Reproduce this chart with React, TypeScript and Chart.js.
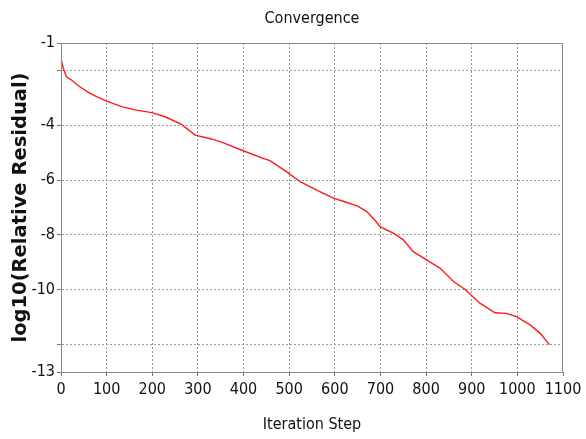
import React, { useEffect, useRef } from "react";
import { Chart, registerables } from "chart.js";

Chart.register(...registerables);

const iterations = [0, 5, 12, 23, 38, 60, 78, 100, 133, 162, 199, 228, 264, 294, 330, 359, 399, 443, 458, 494, 524, 567, 597, 620, 650, 670, 690, 699, 732, 750, 772, 801, 831, 860, 885, 918, 951, 976, 998, 1028, 1050, 1070];
const residuals = [-1.58, -1.92, -2.23, -2.35, -2.56, -2.8, -2.96, -3.12, -3.32, -3.44, -3.54, -3.69, -3.97, -4.36, -4.5, -4.66, -4.93, -5.21, -5.29, -5.69, -6.06, -6.42, -6.66, -6.78, -6.95, -7.15, -7.5, -7.7, -7.97, -8.18, -8.61, -8.91, -9.22, -9.7, -9.98, -10.49, -10.84, -10.86, -10.98, -11.28, -11.59, -12.0];
const yTickValues = [-13, -12, -10, -8, -6, -4, -2, -1];
const yTickLabels = ["-13", "", "-10", "-8", "-6", "-4", "", "-1"];
const xTickValues = [0, 100, 200, 300, 400, 500, 600, 700, 800, 900, 1000, 1100];
const xTickLabels = ["0", "100", "200", "300", "400", "500", "600", "700", "800", "900", "1000", "1100"];

const NARROW = "'Liberation Sans Narrow', 'DejaVu Sans Condensed', 'DejaVu Sans', sans-serif";
const TICK_FONT = { family: NARROW, size: 16 };

const frame = {
  id: "frame",
  afterDatasetsDraw(chart: any) {
    const { ctx, chartArea } = chart;
    ctx.save();
    ctx.strokeStyle = "#8a8a8a";
    ctx.lineWidth = 1;
    ctx.setLineDash([]);
    ctx.strokeRect(Math.round(chartArea.left) + 0.5, Math.round(chartArea.top) + 0.5, Math.round(chartArea.right - chartArea.left) - 1, Math.round(chartArea.bottom - chartArea.top));
    ctx.restore();
  },
};

export default function App() {
  const ref = useRef<HTMLCanvasElement>(null);
  useEffect(() => {
    document.body.style.margin = "0";
    const data = iterations.map((x, i) => ({ x, y: residuals[i] }));
    const xMin = xTickValues[0];
    const xMax = xTickValues[xTickValues.length - 1];
    const chart = new Chart(ref.current!, {
      type: "scatter",
      data: {
        datasets: [
          {
            data,
            showLine: true,
            borderColor: "#ff1a1a",
            borderWidth: 1.4,
            pointRadius: 0,
            tension: 0,
          },
        ],
      },
      options: {
        animation: false,
        responsive: false,
        layout: { padding: { left: 0, right: 23, top: 0, bottom: 0 } },
        plugins: { legend: { display: false }, tooltip: { enabled: false } },
        scales: {
          x: {
            type: "linear",
            position: "bottom",
            min: xMin,
            max: xMax,
            afterBuildTicks: (s: any) => {
              s.ticks = xTickValues.map((v) => ({ value: v }));
            },
            afterFit: (s: any) => {
              s.height = 67;
            },
            ticks: {
              color: "#111",
              font: TICK_FONT,
              padding: 4,
              maxRotation: 0,
              autoSkip: false,
              callback: (v: any) => {
                const i = xTickValues.indexOf(Number(v));
                return i >= 0 ? xTickLabels[i] : "";
              },
            },
            grid: {
              color: (c: any) => (c.tick && (c.tick.value === xMin || c.tick.value === xMax) ? "rgba(0,0,0,0)" : "#9a9a9a"),
              tickColor: "#777",
              tickLength: 4,
              tickBorderDash: [],
            },
            border: { display: true, color: "#777", dash: [2, 2] },
            title: {
              display: true,
              text: "Iteration Step",
              color: "#111",
              font: { family: NARROW, size: 16 },
              padding: { top: 0, bottom: 5 },
            },
          },
          x2: {
            type: "linear",
            position: "top",
            min: xMin,
            max: xMax,
            ticks: { display: false },
            grid: { display: false, drawTicks: false },
            border: { display: false },
            afterFit: (s: any) => {
              s.height = 43;
            },
            title: {
              display: true,
              text: "Convergence",
              color: "#111",
              font: { family: NARROW, size: 16 },
              padding: { top: 9, bottom: 0 },
            },
          },
          y: {
            type: "linear",
            min: -13,
            max: -1,
            afterBuildTicks: (s: any) => {
              s.ticks = yTickValues.map((v) => ({ value: v }));
            },
            afterFit: (s: any) => {
              s.width = 61;
            },
            ticks: {
              color: "#111",
              font: TICK_FONT,
              padding: 2,
              autoSkip: false,
              callback: (v: any) => {
                const i = yTickValues.indexOf(Number(v));
                return i >= 0 ? yTickLabels[i] : "";
              },
            },
            grid: {
              color: (c: any) => (c.tick && (c.tick.value === -13 || c.tick.value === -1) ? "rgba(0,0,0,0)" : "#9a9a9a"),
              tickColor: "#777",
              tickLength: 4,
              tickBorderDash: [],
            },
            border: { display: true, color: "#777", dash: [2, 2] },
            title: {
              display: true,
              text: "log10(Relative Residual)",
              color: "#111",
              font: { family: "'DejaVu Sans', sans-serif", size: 19.5, weight: "bold" },
              padding: { top: 9, bottom: 0 },
            },
          },
        },
      },
      plugins: [frame],
    });
    return () => chart.destroy();
  }, []);
  return (
    <div style={{ width: 586, height: 439, background: "#fff" }}>
      <canvas ref={ref} width={586} height={439} style={{ display: "block" }} />
    </div>
  );
}
